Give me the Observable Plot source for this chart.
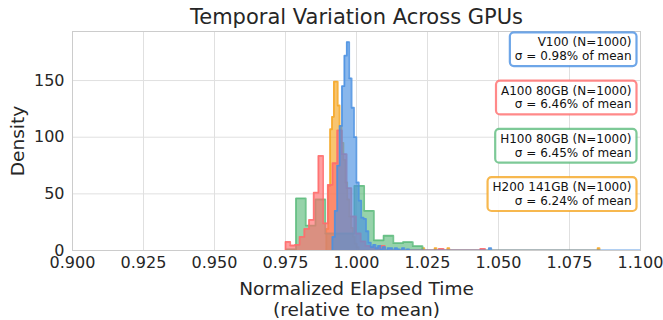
<!DOCTYPE html>
<html><head><meta charset="utf-8">
<script src="https://cdn.jsdelivr.net/npm/d3@7"></script>
<script src="https://cdn.jsdelivr.net/npm/@observablehq/plot@0.6"></script>
<style>
body{margin:0;background:#fff}
#chart svg{font-family:"DejaVu Sans",sans-serif;background:#fff}
</style>
</head><body><div id="chart"></div>
<script>
// ---- data ----
const gpus = ["V100", "A100 80GB", "H100 80GB", "H200 141GB"];
const seriesColors = ["#4A90E2", "#FF6B6B", "#5DBB7D", "#F5A623"];
const sampleN = [1000, 1000, 1000, 1000];
const sigmaPct = [0.98, 6.46, 6.45, 6.24];
const xTicks = [0.900, 0.925, 0.950, 0.975, 1.000, 1.025, 1.050, 1.075, 1.100];
const yTicks = [0, 50, 100, 150];
const xDomain = [0.9, 1.1];
const yDomain = [0, 193.3];

// V100 histogram (density per bin)
const v100Start = 0.99151, v100Width = 0.000845;
const v100Density = [12, 35, 75, 110, 145, 172, 184, 152, 126, 100, 60, 44, 29, 28, 17, 7, 3, 5, 2, 4, 1, 3, 0, 2, 2, 0, 2, 1, 0, 2, 0, 1];
const v100TailX = [1.0466, 1.12];
const v100TailDensity = [2, 1];

// A100 80GB
const a100Start = 0.975, a100Width = 0.001655;
const a100Density = [7.6, 4.4, 5, 12, 19, 27, 51, 83.5, 24, 58, 77, 106, 85, 55, 30, 15, 8, 4, 3, 2];
const a100TailX = [1.0083, 1.0290, 1.0436];
const a100TailDensity = [4, 1.5, 1.5];

// H100 80GB
const h100Start = 0.97528, h100Width = 0.003426;
const h100Density = [1, 46, 22, 45, 15, 15, 15, 57, 35, 9, 13, 6.5, 7.4, 3.8];
const h100TailX = [];
const h100TailDensity = [];

// H200 141GB
const h200Start = 0.98937, h200Width = 0.000669;
const h200Density = [19, 57, 107, 118, 149, 149, 128, 110, 95, 80, 60, 45, 30, 20, 12, 6, 3];
const h200TailX = [1.0232, 1.0275, 1.0320, 1.0849];
const h200TailDensity = [2, 2, 2, 2];

// ---- build step outlines from the bins ----
function stepPoints(start, width, dens, tailX, tailD) {
  const bins = dens.map((d, i) => ({x0: start + i * width, x1: start + (i + 1) * width, d}));
  tailX.forEach((x, i) => bins.push({x0: x, x1: x + width, d: tailD[i]}));
  bins.sort((a, b) => a.x0 - b.x0);
  const pts = [];
  let prev = null;
  for (const b of bins) {
    if (prev === null) pts.push({x: b.x0, y: 0});
    else if (b.x0 > prev + 1e-9) pts.push({x: prev, y: 0});
    pts.push({x: b.x0, y: b.d});
    prev = b.x1;
  }
  pts.push({x: prev, y: 0});
  return pts;
}

const series = [
  stepPoints(v100Start, v100Width, v100Density, v100TailX, v100TailDensity),
  stepPoints(a100Start, a100Width, a100Density, a100TailX, a100TailDensity),
  stepPoints(h100Start, h100Width, h100Density, h100TailX, h100TailDensity),
  stepPoints(h200Start, h200Width, h200Density, h200TailX, h200TailDensity)
];
const drawOrder = [3, 2, 1, 0];

const ink = "#262626";
const marks = [
  Plot.gridX(xTicks, {stroke: "#e0e0e0", strokeOpacity: 1, strokeWidth: 1}),
  Plot.gridY(yTicks, {stroke: "#e0e0e0", strokeOpacity: 1, strokeWidth: 1})
];
for (const i of drawOrder) {
  marks.push(Plot.areaY(series[i], {x: "x", y: "y", curve: "step-after", fill: seriesColors[i], fillOpacity: 0.65, clip: true}));
  marks.push(Plot.lineY(series[i], {x: "x", y: "y", curve: "step-after", stroke: seriesColors[i], strokeWidth: 1.8, strokeOpacity: 0.85, clip: true}));
}
marks.push(Plot.frame({stroke: "#cccccc", strokeWidth: 1}));
marks.push(Plot.axisX(xTicks, {tickSize: 0, tickPadding: 6, tickFormat: d3.format(".3f"), fill: ink, label: null, fontSize: 16}));
marks.push(Plot.axisY(yTicks, {tickSize: 0, tickPadding: 8, fill: ink, label: null, fontSize: 16}));
marks.push(Plot.text(["Temporal Variation Across GPUs"], {frameAnchor: "top", dy: -14, lineAnchor: "middle", fontSize: 21, fill: ink, text: d => d}));
marks.push(Plot.text(["Normalized Elapsed Time\n(relative to mean)"], {frameAnchor: "bottom", dy: 48.5, lineAnchor: "middle", fontSize: 18.5, lineHeight: 1.15, fill: ink, text: d => d}));
marks.push(Plot.text(["Density"], {frameAnchor: "left", dx: -54, rotate: -90, textAnchor: "middle", lineAnchor: "middle", fontSize: 18.5, fill: ink, text: d => d}));
gpus.forEach((g, i) => {
  marks.push(Plot.text([`${g} (N=${sampleN[i]})\nσ = ${sigmaPct[i].toFixed(2)}% of mean`], {
    frameAnchor: "top-right", dx: -9, dy: 5 + i * 48.3, lineAnchor: "top", textAnchor: "end",
    fontSize: 12, lineHeight: 1.15, fill: "#111", text: d => d, className: "gpubox" + i
  }));
});

const plot = Plot.plot({
  width: 663, height: 320,
  marginLeft: 72, marginRight: 23, marginTop: 31, marginBottom: 70,
  style: {fontFamily: "DejaVu Sans", fontSize: "16px", color: ink, background: "#fff"},
  x: {domain: xDomain},
  y: {domain: yDomain},
  marks
});
document.getElementById("chart").appendChild(plot);

// draw rounded boxes around the annotation texts
const svgRect = plot.getBoundingClientRect();
gpus.forEach((g, i) => {
  const grp = plot.querySelector("g.gpubox" + i);
  if (!grp) return;
  const bb = grp.getBoundingClientRect();
  const padX = 5, padY = 3;
  const r = document.createElementNS("http://www.w3.org/2000/svg", "rect");
  r.setAttribute("x", bb.left - svgRect.left - padX);
  r.setAttribute("y", bb.top - svgRect.top - padY);
  r.setAttribute("width", bb.width + 2 * padX);
  r.setAttribute("height", bb.height + 2 * padY);
  r.setAttribute("rx", 4);
  r.setAttribute("fill", "#fff");
  r.setAttribute("fill-opacity", 0.9);
  r.setAttribute("stroke", seriesColors[i]);
  r.setAttribute("stroke-opacity", 0.8);
  r.setAttribute("stroke-width", 2.2);
  grp.parentNode.insertBefore(r, grp);
});
</script>
</body></html>
